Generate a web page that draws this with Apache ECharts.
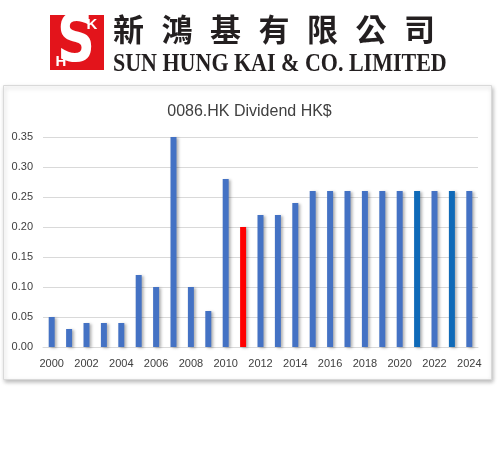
<!DOCTYPE html>
<html>
<head>
<meta charset="utf-8">
<script src="https://cdn.jsdelivr.net/npm/echarts@6/dist/echarts.min.js"></script>
<style>
  html, body { margin: 0; padding: 0; background: #fff; }
  #chart { width: 499px; height: 470px; }
</style>
</head>
<body>
<div id="chart"></div>
<script>
// dividend per share, HK$
var years = ['2000', '2001', '2002', '2003', '2004', '2005', '2006', '2007', '2008', '2009',
             '2010', '2011', '2012', '2013', '2014', '2015', '2016', '2017', '2018', '2019',
             '2020', '2021', '2022', '2023', '2024'];
var dividends = [0.05, 0.03, 0.04, 0.04, 0.04, 0.12, 0.10, 0.35, 0.10, 0.06,
                 0.28, 0.20, 0.22, 0.22, 0.24, 0.26, 0.26, 0.26, 0.26, 0.26,
                 0.26, 0.26, 0.26, 0.26, 0.26];
var yTicks = [0, 0.05, 0.10, 0.15, 0.20, 0.25, 0.30, 0.35];
var chartTitle = '0086.HK Dividend HK$';
var nameZh = '新鴻基有限公司';
var nameEn = 'SUN HUNG KAI & CO. LIMITED';

var chart = echarts.init(document.getElementById('chart'));

// logo + company name, drawn as graphics
var logo = [
  { type: 'rect', left: 3, top: 85, shape: { width: 488, height: 294 },
    style: { fill: '#fff', stroke: '#d9d9d9', lineWidth: 1,
             shadowColor: 'rgba(0,0,0,0.25)', shadowBlur: 4, shadowOffsetX: 1, shadowOffsetY: 2 },
    z: -10 },
  { type: 'rect', left: 50, top: 15, shape: { width: 54, height: 55 }, style: { fill: '#e3141b' } },
  { type: 'text', x: 76, y: 44, scaleX: 0.8, z: 2,
    style: { text: 'S', fill: '#fff', font: 'bold 66px "DejaVu Sans"',
             align: 'center', verticalAlign: 'middle' } },
  { type: 'text', x: 92, y: 25, z: 3,
    style: { text: 'K', fill: '#fff', font: 'bold 15px "Liberation Sans"',
             align: 'center', verticalAlign: 'middle' } },
  { type: 'text', x: 61, y: 62, z: 3,
    style: { text: 'H', fill: '#fff', font: 'bold 15px "Liberation Sans"',
             align: 'center', verticalAlign: 'middle' } },
  { type: 'text', left: 113, top: 52, scaleY: 1.15,
    style: { text: nameEn, fill: '#231f20', font: 'bold 22px "Liberation Serif"' } }
];
nameZh.split('').forEach(function (ch, i) {
  logo.push({ type: 'text', left: 113 + i * 48.5, top: 14,
    style: { text: ch, fill: '#231f20', font: 'bold 31px "Noto Sans CJK TC"' } });
});

chart.setOption({
  animation: false,
  title: {
    text: chartTitle,
    left: 'center',
    top: 99,
    textStyle: { fontFamily: 'Liberation Sans', fontSize: 16, fontWeight: 'normal', color: '#404040' }
  },
  graphic: logo,
  grid: { left: 43, right: 21, top: 137, bottom: 123, containLabel: false },
  xAxis: {
    type: 'category',
    data: years,
    axisTick: { show: false },
    axisLine: { lineStyle: { color: '#d9d9d9' } },
    axisLabel: { interval: 1, color: '#404040', fontFamily: 'Liberation Sans', fontSize: 11, margin: 11 }
  },
  yAxis: {
    type: 'value',
    min: 0,
    max: yTicks[yTicks.length - 1],
    interval: 0.05,
    axisLabel: {
      color: '#404040', fontFamily: 'Liberation Sans', fontSize: 11, margin: 10,
      formatter: function (v) { return v.toFixed(2); }
    },
    splitLine: { lineStyle: { color: '#d9d9d9' } }
  },
  series: [{
    type: 'bar',
    data: dividends,
    barWidth: 6,
    itemStyle: {
      color: function (p) {
        if (p.name === '2011') return '#ff0000';
        if (p.name === '2021' || p.name === '2023') return '#0f6ab8';
        return '#4472c4';
      },
      shadowColor: 'rgba(0,0,0,0.3)',
      shadowBlur: 3,
      shadowOffsetX: 2,
      shadowOffsetY: 1
    }
  }]
});
</script>
</body>
</html>
